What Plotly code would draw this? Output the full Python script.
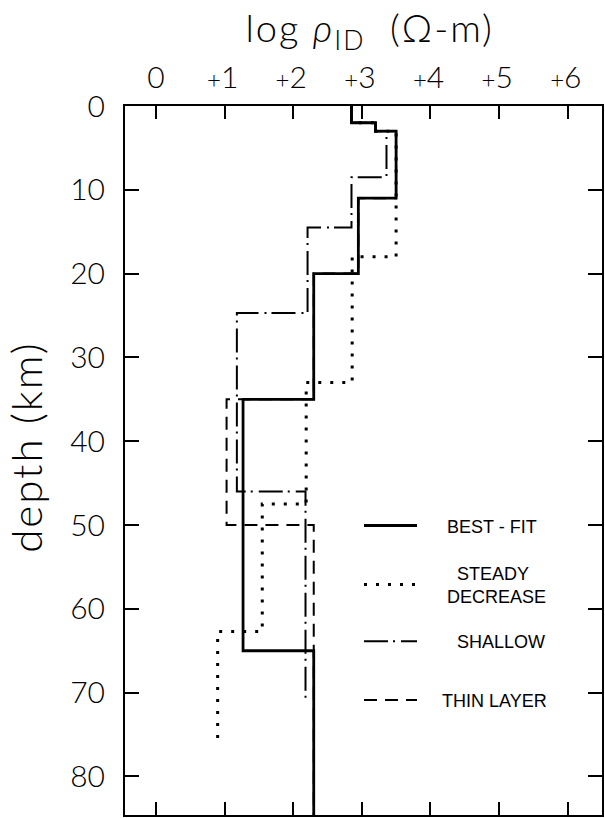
import plotly.graph_objects as go

# Axis ticks
depth_ticks = [0, 10, 20, 30, 40, 50, 60, 70, 80]
rho_ticks = [0, 1, 2, 3, 4, 5, 6]
rho_tick_text = ["0", "+1", "+2", "+3", "+4", "+5", "+6"]

# Layered models: top depth of each layer (km) and its log resistivity
best_fit_tops = [0, 2, 3, 11, 20, 35, 65]
best_fit_logrho = [2.85, 3.2, 3.5, 2.95, 2.3, 1.27, 2.3]
best_fit_base = 85

steady_tops = [0, 2, 3, 18, 33, 47.5, 62.7]
steady_logrho = [2.85, 3.2, 3.5, 2.86, 2.19, 1.55, 0.9]
steady_base = 76

shallow_tops = [0, 2, 3, 8.5, 14.5, 24.7, 46]
shallow_logrho = [2.85, 3.2, 3.36, 2.85, 2.21, 1.18, 2.18]
shallow_base = 71

thin_tops = [0, 2, 3, 11, 20, 35, 50]
thin_logrho = [2.85, 3.2, 3.5, 2.95, 2.3, 1.03, 2.3]
thin_base = 85

W, H = 605, 818
L, R, T, B = 125, 1, 106, 1
NB = "\u00a0"


def step_xy(tops, vals, base):
    # one point per layer top plus the base; 'vh' shape gives the staircase
    return list(vals) + [vals[-1]], list(tops) + [base]


def px_x(p):
    return (p - L) / (W - L - R)


def px_y(p):
    return (H - B - p) / (H - T - B)


def signed_label(t):
    # small plus sign, digit sitting over the tick
    if t.startswith("+"):
        return ('<span style="font-size:24px;fill:black">+</span>'
                + t[1:] + "\u2009")
    return t


fig = go.Figure()

models = [
    (NB * 7 + "STEADY<br>" + NB * 5 + "DECREASE", steady_tops, steady_logrho,
     steady_base, dict(width=3, dash="3px,9px"), "legend2"),
    (NB * 7 + "SHALLOW", shallow_tops, shallow_logrho, shallow_base,
     dict(width=2, dash="24px,5px,2px,6px"), "legend3"),
    (NB * 4 + "THIN LAYER", thin_tops, thin_logrho, thin_base,
     dict(width=2, dash="13px,8px"), "legend4"),
    (NB * 5 + "BEST - FIT", best_fit_tops, best_fit_logrho, best_fit_base,
     dict(width=2.8), "legend"),
]
for name, tops, vals, base, line, leg in models:
    xs, ys = step_xy(tops, vals, base)
    fig.add_trace(go.Scatter(
        x=xs, y=ys, mode="lines", name=name, legend=leg, showlegend=True,
        line=dict(color="black", shape="vh", **line),
    ))

FAMILY = "Lato, DejaVu Sans, sans-serif"
axis_font = dict(family=FAMILY, size=30, color="black", weight=300)
legend_font = dict(family="Liberation Sans, Arial, sans-serif", size=18, color="black")

leg_common = dict(
    xanchor="left", yanchor="middle", bgcolor="rgba(0,0,0,0)",
    borderwidth=0, font=legend_font, itemwidth=53,
)

fig.update_layout(
    width=W, height=H,
    margin=dict(l=L, r=R, t=T, b=B),
    paper_bgcolor="white", plot_bgcolor="white",
    font=axis_font,
    showlegend=True,
    legend=dict(x=px_x(360), y=px_y(527), **leg_common),
    legend2=dict(x=px_x(360), y=px_y(586), **leg_common),
    legend3=dict(x=px_x(360), y=px_y(643), **leg_common),
    legend4=dict(x=px_x(360), y=px_y(702), **leg_common),
    xaxis=dict(
        side="top", range=[-0.45, 6.5],
        tickvals=rho_ticks, ticktext=[signed_label(t) for t in rho_tick_text],
        ticks="inside", ticklen=13, tickwidth=2, tickcolor="black",
        showline=True, linewidth=2, linecolor="black", mirror="ticks",
        showgrid=False, zeroline=False,
        tickfont=axis_font, ticklabelstandoff=4,
        title=dict(text='<span style="letter-spacing:2px">' + NB
                   + 'log' + NB + '<i>ρ</i><sub>ID</sub>' + NB * 2 + '(Ω-m)</span>',
                   font=dict(family=FAMILY, size=38, weight=300),
                   standoff=4),
    ),
    yaxis=dict(
        range=[84.6, 0],
        tickvals=depth_ticks,
        ticks="inside", ticklen=14, tickwidth=2, tickcolor="black",
        showline=True, linewidth=2, linecolor="black", mirror="ticks",
        showgrid=False, zeroline=False,
        tickfont=axis_font, ticklabelstandoff=12,
        title=dict(text='<span style="letter-spacing:2px">' + NB * 2
                   + 'depth (km)</span>',
                   font=dict(family=FAMILY, size=42, weight=300),
                   standoff=14),
    ),
)

fig.write_html("out.html")
